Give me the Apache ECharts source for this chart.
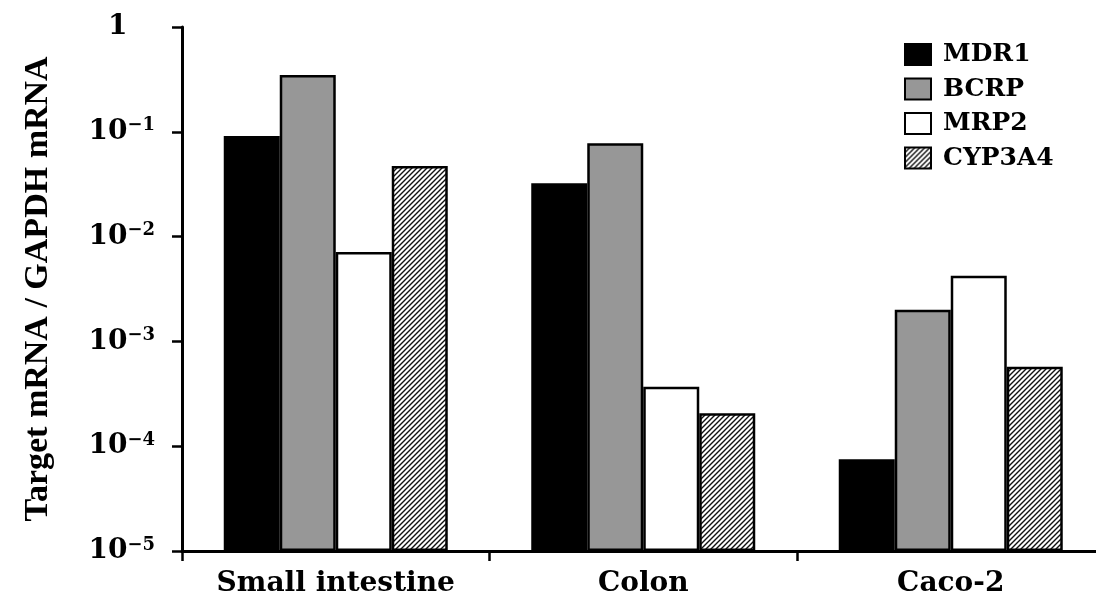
<!DOCTYPE html>
<html>
<head>
<meta charset="utf-8">
<script src="https://cdn.jsdelivr.net/npm/echarts@6/dist/echarts.min.js"></script>
<style>
html,body{margin:0;padding:0;background:#fff;}
#chart{width:1096px;height:600px;}
</style>
</head>
<body>
<div id="chart"></div>
<script>
var categories = ['Small intestine', 'Colon', 'Caco-2'];
var seriesNames = ['MDR1', 'BCRP', 'MRP2', 'CYP3A4'];
var mdr1 = [0.091, 0.0323, 0.000075];
var bcrp = [0.348, 0.0777, 0.0020];
var mrp2 = [0.00713, 0.00037, 0.00424];
var cyp3a4 = [0.0472, 0.000206, 0.000574];
var yMin = 0.00001;
var yMax = 1;

// hatch pattern
var pc = document.createElement('canvas');
pc.width = 5; pc.height = 5;
var ctx = pc.getContext('2d');
ctx.fillStyle = '#fff';
ctx.fillRect(0, 0, 5, 5);
ctx.strokeStyle = '#111';
ctx.lineWidth = 1.4;
ctx.beginPath();
ctx.moveTo(-1, 6); ctx.lineTo(6, -1);
ctx.moveTo(-1, 1); ctx.lineTo(1, -1);
ctx.moveTo(4, 6); ctx.lineTo(6, 4);
ctx.stroke();

var serifH = 'DejaVu Serif';
var chart = echarts.init(document.getElementById('chart'));

function mkSeries(name, data, fill) {
  return {
    name: name,
    type: 'bar',
    data: data,
    barWidth: 56,
    barGap: '0%',
    itemStyle: { color: fill, borderColor: '#000', borderWidth: 2.5 },
    emphasis: { disabled: true }
  };
}

var option = {
  backgroundColor: '#fff',
  animation: false,
  grid: { left: 182, right: -8.5, top: 27, bottom: 49, outerBoundsMode: 'none' },
  legend: {
    orient: 'vertical',
    left: 899,
    top: 37,
    itemWidth: 26,
    itemHeight: 21,
    itemGap: 9.5,
    icon: 'rect',
    data: seriesNames,
    textStyle: {
      fontFamily: serifH, fontWeight: 'bold', fontSize: 25, color: '#000',
      lineHeight: 21, padding: [2, 0, 0, 7]
    }
  },
  xAxis: {
    type: 'category',
    data: categories,
    axisLine: { lineStyle: { color: '#000', width: 3 } },
    axisTick: { show: true, length: 10, lineStyle: { color: '#000', width: 2.5 } },
    axisLabel: {
      margin: 19,
      fontFamily: serifH, fontWeight: 'bold', fontSize: 28, color: '#000',
      interval: 0
    },
    splitLine: { show: false }
  },
  yAxis: {
    type: 'log',
    logBase: 10,
    min: yMin,
    max: yMax,
    startValue: yMin,
    name: 'Target mRNA / GAPDH mRNA',
    nameLocation: 'middle',
    nameGap: 127,
    nameRotate: 90,
    nameTextStyle: { fontFamily: 'Liberation Serif', fontWeight: 'bold', fontSize: 34, color: '#000' },
    axisLine: { show: true, lineStyle: { color: '#000', width: 3 } },
    axisTick: { show: true, length: 10, lineStyle: { color: '#000', width: 2.5 } },
    minorTick: { show: false },
    splitLine: { show: false },
    axisLabel: {
      margin: 27,
      formatter: function (v) {
        var e = Math.round(Math.log10(v));
        if (e === 0) return '{b|1}{h|\u22121}';
        return '{b|10}{s|\u2212' + Math.abs(e) + '}';
      },
      rich: {
        b: { fontFamily: serifH, fontWeight: 'bold', fontSize: 28, lineHeight: 30, color: '#000' },
        s: { fontFamily: serifH, fontWeight: 'bold', fontSize: 18, lineHeight: 18, padding: [0, 0, 12, 0], color: '#000' },
        h: { fontFamily: serifH, fontWeight: 'bold', fontSize: 18, lineHeight: 18, padding: [0, 0, 12, 0], color: 'rgba(0,0,0,0)' }
      }
    }
  },
  series: [
    mkSeries(seriesNames[0], mdr1, '#000'),
    mkSeries(seriesNames[1], bcrp, '#979797'),
    mkSeries(seriesNames[2], mrp2, '#fff'),
    mkSeries(seriesNames[3], cyp3a4, { image: pc, repeat: 'repeat' })
  ]
};
chart.setOption(option);
</script>
</body>
</html>
